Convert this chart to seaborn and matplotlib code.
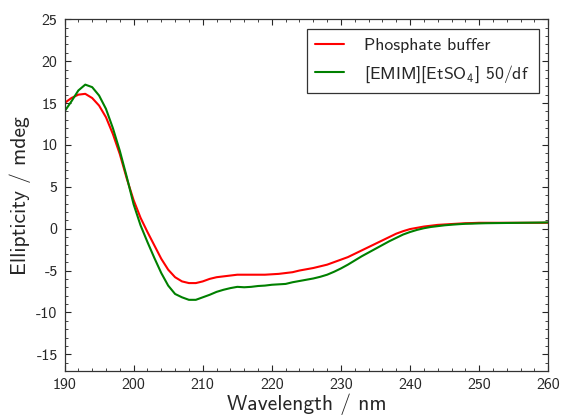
import matplotlib
matplotlib.use('Agg')
import matplotlib.pyplot as plt
import seaborn as sns
import pandas as pd
import numpy as np
from matplotlib.ticker import MultipleLocator

wavelength = list(range(190, 261))

phosphate = [15.0, 15.6, 16.0, 16.1, 15.6, 14.7, 13.3, 11.3, 8.9, 6.0,
             3.4, 1.3, -0.4, -2.0, -3.6, -4.9, -5.8, -6.3, -6.5, -6.5,
             -6.3, -6.0, -5.8, -5.7, -5.6, -5.5, -5.5, -5.5, -5.5, -5.5,
             -5.45, -5.4, -5.3, -5.2, -5.0, -4.85, -4.7, -4.5, -4.3, -4.0,
             -3.7, -3.4, -3.0, -2.6, -2.2, -1.8, -1.4, -1.0, -0.6, -0.3,
             -0.05, 0.1, 0.25, 0.35, 0.45, 0.5, 0.55, 0.6, 0.65, 0.67,
             0.7, 0.7, 0.7, 0.7, 0.7, 0.7, 0.7, 0.7, 0.7, 0.7, 0.7]

emim = [14.0, 15.2, 16.5, 17.2, 16.9, 15.9, 14.3, 12.0, 9.3, 6.2,
        2.9, 0.4, -1.6, -3.5, -5.3, -6.8, -7.8, -8.2, -8.5, -8.5,
        -8.2, -7.9, -7.55, -7.3, -7.1, -6.95, -7.0, -6.95, -6.85, -6.8,
        -6.7, -6.65, -6.6, -6.4, -6.25, -6.1, -5.95, -5.75, -5.5, -5.15,
        -4.75, -4.3, -3.8, -3.3, -2.85, -2.4, -1.95, -1.5, -1.1, -0.7,
        -0.4, -0.15, 0.05, 0.2, 0.3, 0.4, 0.47, 0.53, 0.58, 0.6,
        0.63, 0.65, 0.66, 0.67, 0.68, 0.69, 0.7, 0.71, 0.72, 0.73, 0.75]

label_a = 'Phosphate buffer'
label_b = r'[EMIM][EtSO$_4$] 50/df'

df = pd.concat([
    pd.DataFrame({'wl': wavelength, 'ell': phosphate, 'sample': label_a}),
    pd.DataFrame({'wl': wavelength, 'ell': emim, 'sample': label_b}),
])

sns.set_style('ticks')
plt.rcParams['font.family'] = ['cmss10', 'DejaVu Sans']
plt.rcParams['mathtext.fontset'] = 'custom'
plt.rcParams['mathtext.rm'] = 'cmss10'
plt.rcParams['mathtext.it'] = 'cmss10'
plt.rcParams['axes.unicode_minus'] = False
plt.rcParams['axes.formatter.use_mathtext'] = False

fig = plt.figure(figsize=(5.62, 4.17), dpi=100)
ax = fig.add_axes([0.1148, 0.1103, 0.8608, 0.8434])

sns.lineplot(data=df, x='wl', y='ell', hue='sample',
             palette={label_a: 'red', label_b: 'green'},
             linewidth=1.5, ax=ax)

ax.set_xlim(190, 260)
ax.set_ylim(-17, 25)
ax.xaxis.set_major_locator(MultipleLocator(10))
ax.xaxis.set_minor_locator(MultipleLocator(2))
ax.yaxis.set_major_locator(MultipleLocator(5))
ax.yaxis.set_minor_locator(MultipleLocator(1))
ax.tick_params(which='both', direction='in', top=True, right=True,
               labelsize=11.5, pad=5)
ax.tick_params(which='major', length=4.5, width=0.8)
ax.tick_params(which='minor', length=2.5, width=0.6)
for s in ax.spines.values():
    s.set_linewidth(0.9)
    s.set_color('#333333')

ax.set_xlabel('Wavelength / nm', fontsize=15.5, labelpad=1)
ax.set_ylabel('Ellipticity / mdeg', fontsize=15.5, labelpad=4)

handles, labels = ax.get_legend_handles_labels()
leg = ax.legend(handles, labels, loc='upper right', fontsize=12.8,
                frameon=True, fancybox=False, edgecolor='black',
                handlelength=1.6, handletextpad=1.15, labelspacing=0.55,
                borderaxespad=0.55, borderpad=0.5)
leg.get_frame().set_linewidth(0.9)

plt.savefig('out.png', dpi=100)
plt.close()
